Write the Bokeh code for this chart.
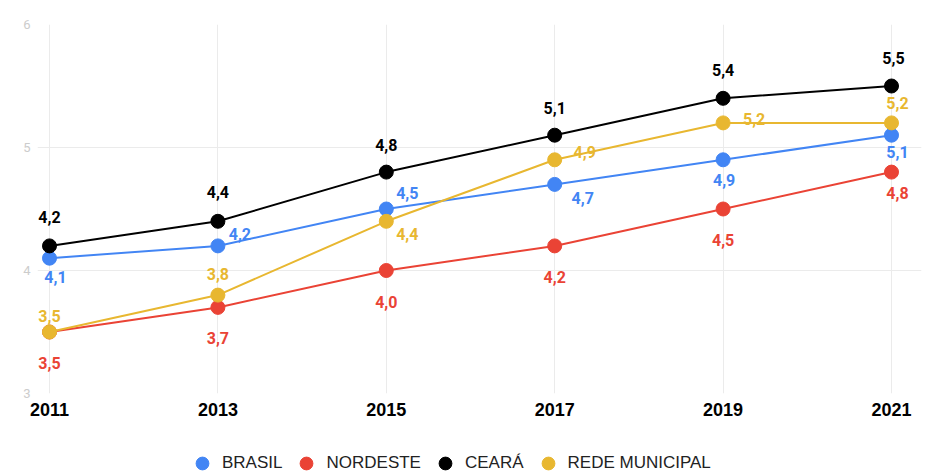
from bokeh.plotting import figure
from bokeh.layouts import column
from bokeh.models import ColumnDataSource, FixedTicker, Legend, LegendItem, Range1d
from bokeh.core.properties import value
from bokeh.embed import file_html
from bokeh.resources import INLINE

years = [2011, 2013, 2015, 2017, 2019, 2021]
series_names = ["BRASIL", "NORDESTE", "CEARÁ", "REDE MUNICIPAL"]
brasil = [4.1, 4.2, 4.5, 4.7, 4.9, 5.1]
nordeste = [3.5, 3.7, 4.0, 4.2, 4.5, 4.8]
ceara = [4.2, 4.4, 4.8, 5.1, 5.4, 5.5]
rede = [3.5, 3.8, 4.4, 4.9, 5.2, 5.2]
y_ticks = [3, 4, 5, 6]

colors = ["#4285F4", "#EA4335", "#000000", "#E8B730"]
# label offsets in screen pixels (style only)
offsets = [
    ([6, 22, 21, 28, 1, 6], [19, -12, -16, 14, 20, 17]),
    ([0, 0, 0, 0, 0, 6], [31, 31, 31, 31, 31, 21]),
    ([0, 0, 0, 0, 0, 2], [-29, -29, -27, -27, -28, -28]),
    ([0, 0, 21, 30, 31, 6], [-16, -21, 13, -8, -4, -20]),
]

LABEL_FONT = "Roboto"
AXIS_FONT = "Liberation Sans"

PX = 84.2  # pixels per year
x_lo = 2011 - 12 / PX
x_grid_hi = 2021 + 14 / PX
x_hi = 2021 + 30 / PX

p = figure(width=936, height=430, output_backend="svg", toolbar_location=None,
           x_range=Range1d(x_lo, x_hi), y_range=Range1d(3, 6),
           min_border_left=37, min_border_right=15, min_border_top=24, min_border_bottom=37)
p.outline_line_color = None
p.background_fill_color = "white"

p.xaxis.ticker = FixedTicker(ticks=years)
p.yaxis.ticker = FixedTicker(ticks=y_ticks)
for ax in (p.xaxis, p.yaxis):
    ax.axis_line_color = None
    ax.major_tick_line_color = None
    ax.minor_tick_line_color = None
    ax.major_tick_out = 0
    ax.major_tick_in = 0
p.xaxis.major_label_text_font = AXIS_FONT
p.xaxis.major_label_text_font_style = "bold"
p.xaxis.major_label_text_font_size = "18px"
p.xaxis.major_label_text_color = "#000000"
p.xaxis.major_label_standoff = 9
p.yaxis.major_label_text_font = LABEL_FONT
p.yaxis.major_label_text_font_size = "13px"
p.yaxis.major_label_text_color = "#cccccc"
p.yaxis.major_label_standoff = 7
p.xgrid.grid_line_color = "#ebebeb"
p.ygrid.grid_line_color = "#ebebeb"
p.xgrid.ticker = FixedTicker(ticks=years)
p.ygrid.ticker = FixedTicker(ticks=y_ticks)
p.ygrid.bounds = (x_lo, x_grid_hi)

all_vals = [brasil, nordeste, ceara, rede]
for vals, col in zip(all_vals, colors):
    src = ColumnDataSource(dict(x=years, y=vals))
    p.line("x", "y", source=src, line_color=col, line_width=2)
    p.scatter("x", "y", source=src, size=14, fill_color=col, line_color=col)

for vals, col, (dx, dy) in zip(all_vals, colors, offsets):
    src = ColumnDataSource(dict(x=years, y=vals,
                                lab=[f"{v:.1f}".replace(".", ",") for v in vals],
                                dx=dx, dy=dy))
    p.text("x", "y", text="lab", source=src, x_offset="dx", y_offset="dy",
           text_align="center", text_baseline="middle", text_color=col,
           text_font=value(LABEL_FONT), text_font_style="bold", text_font_size="16px")

# legend strip below the chart (series markers placed outside its view ranges)
lf = figure(width=936, height=44, output_backend="svg", toolbar_location=None,
            x_range=Range1d(0, 1), y_range=Range1d(0, 1),
            x_axis_location=None, y_axis_location=None, min_border=0)
lf.outline_line_color = None
lf.xgrid.visible = False
lf.ygrid.visible = False
items = []
for name, vals, col in zip(series_names, all_vals, colors):
    r = lf.scatter(x=years, y=vals, size=13, fill_color=col, line_color=col)
    items.append(LegendItem(label=name, renderers=[r]))
legend = Legend(items=items, orientation="horizontal", location=(149, -5),
                glyph_width=32, glyph_height=32, label_standoff=4, spacing=8,
                padding=0, margin=0, border_line_color=None,
                background_fill_alpha=0,
                label_text_font=AXIS_FONT, label_text_font_size="17px",
                label_text_color="#222222")
lf.add_layout(legend, "center")

open("out.html", "w").write(file_html(column(p, lf, spacing=0), INLINE))
